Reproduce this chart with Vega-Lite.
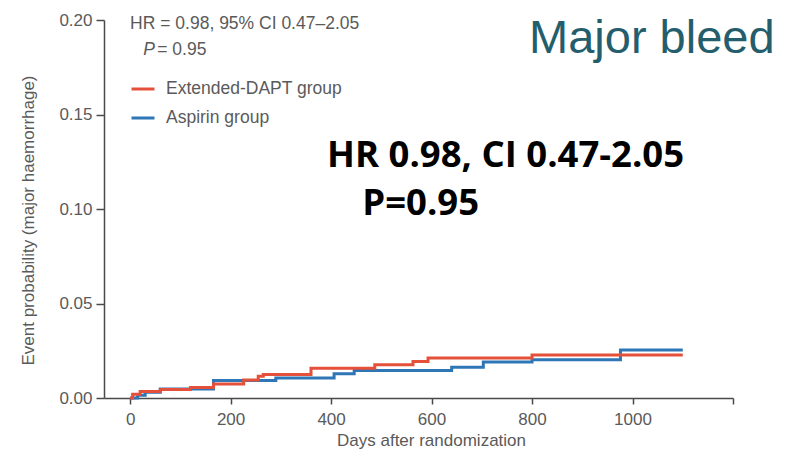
{
  "$schema": "https://vega.github.io/schema/vega-lite/v6.json",
  "width": 629,
  "height": 378,
  "autosize": "none",
  "padding": {"left": 104, "top": 20, "right": 53, "bottom": 63},
  "background": "white",
  "config": {
    "view": {"stroke": null},
    "font": "Liberation Sans",
    "axis": {
      "domainColor": "#4a4a4a",
      "domainWidth": 1.5,
      "tickColor": "#4a4a4a",
      "tickWidth": 1.5,
      "labelColor": "#5a5a5a",
      "titleColor": "#5a5a5a",
      "labelFont": "Liberation Sans",
      "titleFont": "Liberation Sans",
      "labelFontSize": 17,
      "titleFontSize": 17,
      "titleFontWeight": "normal",
      "grid": false
    }
  },
  "datasets": {
    "km": [
      {"group": "Aspirin group", "day": 0, "prob": 0},
      {"group": "Aspirin group", "day": 15, "prob": 0.0015},
      {"group": "Aspirin group", "day": 30, "prob": 0.003},
      {"group": "Aspirin group", "day": 60, "prob": 0.0048},
      {"group": "Aspirin group", "day": 166, "prob": 0.0092},
      {"group": "Aspirin group", "day": 290, "prob": 0.0106},
      {"group": "Aspirin group", "day": 406, "prob": 0.0128},
      {"group": "Aspirin group", "day": 446, "prob": 0.0145},
      {"group": "Aspirin group", "day": 640, "prob": 0.0163},
      {"group": "Aspirin group", "day": 703, "prob": 0.019},
      {"group": "Aspirin group", "day": 800, "prob": 0.0202},
      {"group": "Aspirin group", "day": 976, "prob": 0.0254},
      {"group": "Aspirin group", "day": 1100, "prob": 0.0254},
      {"group": "Extended-DAPT group", "day": 0, "prob": 0},
      {"group": "Extended-DAPT group", "day": 5, "prob": 0.002},
      {"group": "Extended-DAPT group", "day": 20, "prob": 0.0035},
      {"group": "Extended-DAPT group", "day": 60, "prob": 0.0045},
      {"group": "Extended-DAPT group", "day": 120, "prob": 0.0055},
      {"group": "Extended-DAPT group", "day": 166, "prob": 0.0074},
      {"group": "Extended-DAPT group", "day": 226, "prob": 0.0095},
      {"group": "Extended-DAPT group", "day": 255, "prob": 0.0115},
      {"group": "Extended-DAPT group", "day": 265, "prob": 0.0125},
      {"group": "Extended-DAPT group", "day": 360, "prob": 0.0158},
      {"group": "Extended-DAPT group", "day": 487, "prob": 0.0176},
      {"group": "Extended-DAPT group", "day": 563, "prob": 0.0193},
      {"group": "Extended-DAPT group", "day": 593, "prob": 0.0211},
      {"group": "Extended-DAPT group", "day": 800, "prob": 0.0228},
      {"group": "Extended-DAPT group", "day": 1100, "prob": 0.0228}
    ]
  },
  "layer": [
    {
      "data": {"name": "km"},
      "mark": {"type": "line", "interpolate": "step-after", "strokeWidth": 3},
      "encoding": {
        "x": {
          "field": "day", "type": "quantitative",
          "scale": {"domain": [-52, 1200], "nice": false, "zero": false},
          "axis": {
            "title": "Days after randomization",
            "values": [0, 200, 400, 600, 800, 1000, 1200],
            "format": "d",
            "labelExpr": "datum.value == 1200 ? '' : datum.label",
            "tickSize": 6,
            "labelPadding": 7,
            "titleX": 327,
            "titleY": 42,
            "titleBaseline": "middle"
          }
        },
        "y": {
          "field": "prob", "type": "quantitative",
          "scale": {"domain": [0, 0.2], "nice": false},
          "axis": {
            "title": "Event probability (major haemorrhage)",
            "values": [0, 0.05, 0.1, 0.15, 0.2],
            "format": ".2f",
            "tickSize": 8,
            "labelPadding": 4,
            "titleX": -76,
            "titleY": 200,
            "titleBaseline": "middle"
          }
        },
        "color": {
          "field": "group", "type": "nominal",
          "scale": {"domain": ["Extended-DAPT group", "Aspirin group"], "range": ["#e4503a", "#2e76b6"]},
          "legend": {
            "title": null,
            "orient": "none",
            "legendX": 26,
            "legendY": 56,
            "padding": 0,
            "symbolType": "stroke",
            "symbolSize": 529,
            "symbolStrokeWidth": 3,
            "labelFontSize": 17.5,
            "labelColor": "#5a5a5a",
            "labelFont": "Liberation Sans",
            "labelOffset": 10,
            "labelLimit": 0,
            "rowPadding": 7
          }
        }
      }
    },
    {
      "data": {"values": [{"t": "HR = 0.98, 95% CI 0.47–2.05", "day": 0, "prob": 0.1979}]},
      "mark": {"type": "text", "align": "left", "baseline": "middle", "fontSize": 17.5, "color": "#5a5a5a", "font": "Liberation Sans"},
      "encoding": {"x": {"field": "day", "type": "quantitative"}, "y": {"field": "prob", "type": "quantitative"}, "text": {"field": "t"}}
    },
    {
      "data": {"values": [{"t": "P", "day": 26, "prob": 0.1841}]},
      "mark": {"type": "text", "align": "left", "baseline": "middle", "fontSize": 17.5, "fontStyle": "italic", "color": "#5a5a5a", "font": "Liberation Sans"},
      "encoding": {"x": {"field": "day", "type": "quantitative"}, "y": {"field": "prob", "type": "quantitative"}, "text": {"field": "t"}}
    },
    {
      "data": {"values": [{"t": "= 0.95", "day": 54, "prob": 0.1841}]},
      "mark": {"type": "text", "align": "left", "baseline": "middle", "fontSize": 17.5, "color": "#5a5a5a", "font": "Liberation Sans"},
      "encoding": {"x": {"field": "day", "type": "quantitative"}, "y": {"field": "prob", "type": "quantitative"}, "text": {"field": "t"}}
    },
    {
      "data": {"values": [{"t": "HR 0.98, CI 0.47-2.05", "day": 392, "prob": 0.1222}, {"t": "P=0.95", "day": 462, "prob": 0.0968}]},
      "mark": {"type": "text", "align": "left", "baseline": "alphabetic", "fontSize": 36.5, "fontWeight": "bold", "color": "#000000", "font": "Open Sans"},
      "encoding": {"x": {"field": "day", "type": "quantitative"}, "y": {"field": "prob", "type": "quantitative"}, "text": {"field": "t"}}
    },
    {
      "data": {"values": [{"t": "Major bleed", "day": 794, "prob": 0.1825}]},
      "mark": {"type": "text", "align": "left", "baseline": "alphabetic", "fontSize": 47, "color": "#245d6c", "font": "Liberation Sans"},
      "encoding": {"x": {"field": "day", "type": "quantitative"}, "y": {"field": "prob", "type": "quantitative"}, "text": {"field": "t"}}
    }
  ]
}
